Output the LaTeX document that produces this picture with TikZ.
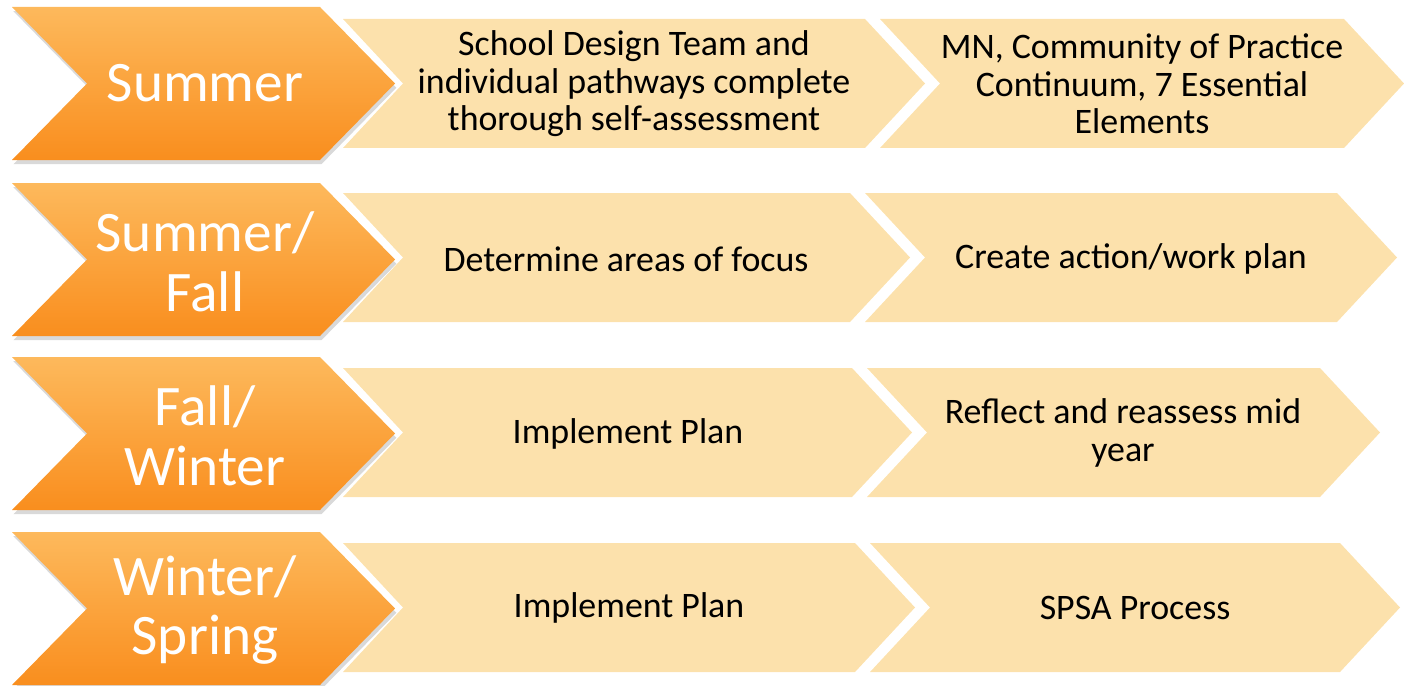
\documentclass[tikz,border=0pt]{standalone}
\usepackage{fontspec}
\setmainfont{Carlito}
\usetikzlibrary{shadows}
\definecolor{seasontop}{HTML}{FDB95C}
\definecolor{seasonbot}{HTML}{F98E1E}
\definecolor{stagefill}{HTML}{FCE1AC}
\tikzset{season/.style = {top color=seasontop, bottom color=seasonbot,
                          drop shadow={shadow xshift=0.4pt, shadow yshift=-1.2pt, opacity=0.3}},
         stage/.style = {fill=stagefill},
         seasontext/.style = {text=white, align=center, inner sep=0pt,
                              font=\fontsize{16.3}{17}\selectfont},
         stagetext/.style = {text=black, align=center, inner sep=0pt,
                             font=\fontsize{10.2}{10.7}\selectfont}}
% chevron: style, left x, tip x, middle y, half height, depth of point
\newcommand{\chevron}[6]{\path[#1] (#2,#4-#5) -- (#3-#6,#4-#5) -- (#3,#4)
    -- (#3-#6,#4+#5) -- (#2,#4+#5) -- (#2+#6,#4) -- cycle;}

\begin{document}
\begin{tikzpicture}[x=0.01cm, y=-0.01cm]
			\useasboundingbox (0,0) rectangle (1404,685);
			% row 1
			\chevron{stage}{343}{925}{83.5}{64.5}{60}
			\chevron{stage}{880}{1404}{83.5}{64.5}{60}
			\chevron{season}{12}{395}{83.5}{76.5}{75}
			% row 2
			\chevron{stage}{343}{910}{257.5}{64.5}{60}
			\chevron{stage}{865}{1397}{257.5}{64.5}{60}
			\chevron{season}{12}{395}{259.5}{76.5}{75}
			% row 3
			\chevron{stage}{343}{912}{432.5}{64.5}{60}
			\chevron{stage}{867}{1380}{432.5}{64.5}{60}
			\chevron{season}{12}{395}{433.5}{76.5}{75}
			% row 4
			\chevron{stage}{343}{915}{607.5}{64.5}{60}
			\chevron{stage}{870}{1400}{607.5}{64.5}{60}
			\chevron{season}{12}{395}{608.5}{76.5}{75}
			\node[seasontext] (summer) at (205, 83) {Summer};
			\node[seasontext] (summerfall) at (205, 262) {Summer/\\Fall};
			\node[seasontext] (fallwinter) at (205, 436) {Fall/\\Winter};
			\node[seasontext] (winterspring) at (205, 610) {Winter/\\Spring};
			\node[stagetext] (selfassess) at (634, 84) {School Design Team and\\individual pathways complete\\thorough self-assessment};
			\node[stagetext] (mncop) at (1142, 84) {MN, Community of Practice\\Continuum, 7 Essential\\Elements};
			\node[stagetext] (focus) at (626, 259) {Determine areas of focus};
			\node[stagetext] (actionplan) at (1131, 259) {Create action/work plan};
			\node[stagetext] (implementfall) at (628, 434) {Implement Plan};
			\node[stagetext] (reflect) at (1123, 433) {Reflect and reassess mid\\year};
			\node[stagetext] (implementspring) at (629, 608) {Implement Plan};
			\node[stagetext] (spsa) at (1135, 608) {SPSA Process};
		\end{tikzpicture}
\end{document}
